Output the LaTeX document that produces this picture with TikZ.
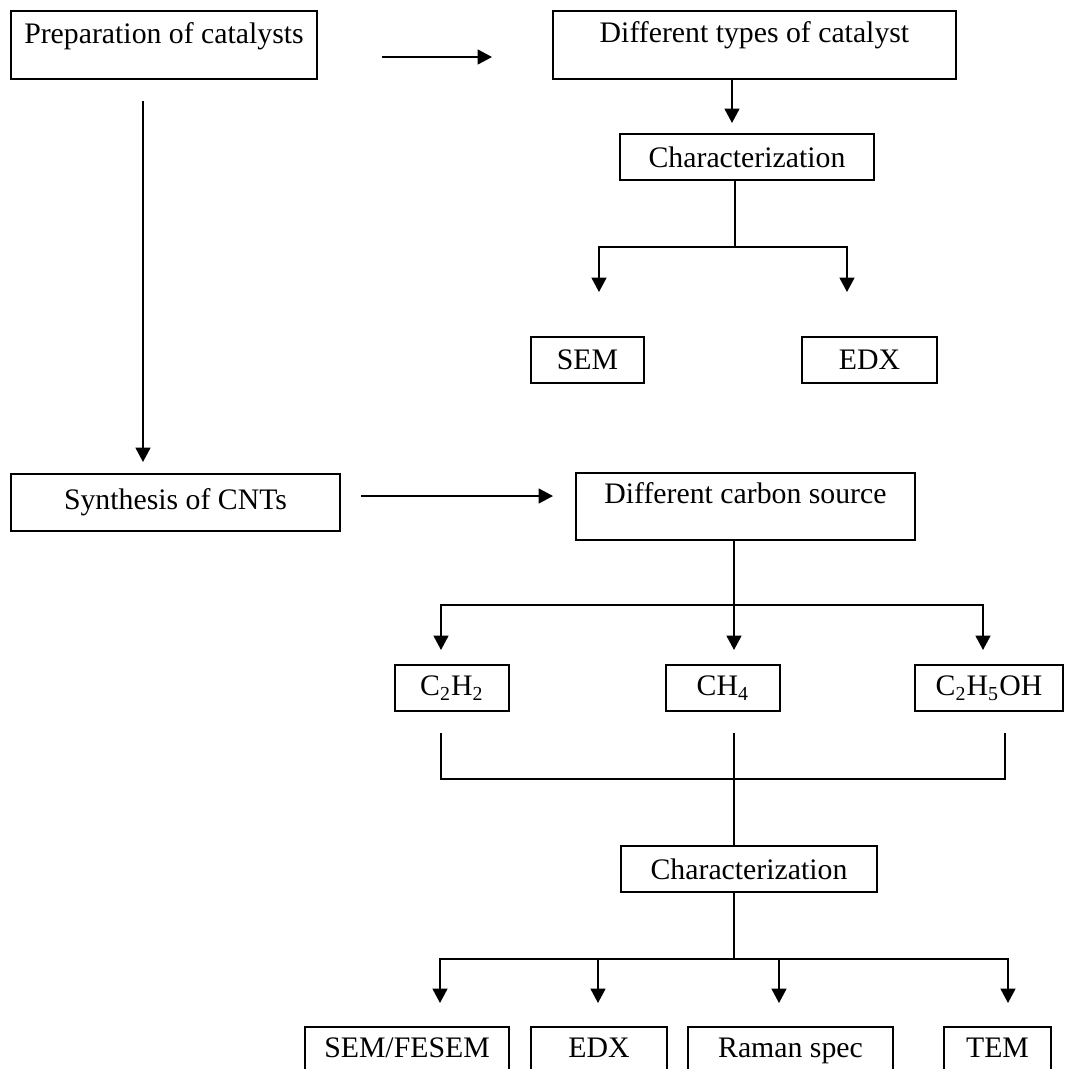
\documentclass[tikz,border=0pt]{standalone}
\usepackage{fontspec}
\setmainfont{Liberation Serif}
\usetikzlibrary{arrows.meta}
\newcommand{\px}{0.403pt}

\begin{document}
\begin{tikzpicture}[
    x=0.403pt, y=-0.403pt,
    box/.style={rectangle, draw, line width=0.75pt, inner sep=0pt, outer sep=0pt, font=\fontsize{12}{14}\selectfont},
    smallbox/.style={box, minimum height=46*\px},
    tallbox/.style={box, anchor=base},
    arrow/.style={-{Triangle[width=6pt, length=5.8pt]}, line width=0.75pt},
    conn/.style={line width=0.75pt}
]
\useasboundingbox (0,0) rectangle (1068,1069);
\clip (0,0) rectangle (1068,1069);

% Catalyst branch
\node[tallbox, minimum width=306*\px, text height=32*\px, text depth=36*\px] (prep) at (164,43) {Preparation of catalysts};
\node[tallbox, minimum width=403*\px, text height=31*\px, text depth=37*\px] (types) at (754.5,42) {Different types of catalyst};
\node[smallbox, minimum width=254*\px] (char1) at (747,157) {Characterization};
\node[smallbox, minimum width=113*\px] (sem1) at (587.5,360) {SEM};
\node[smallbox, minimum width=135*\px] (edx1) at (869.5,360) {EDX};

% CNT branch
\node[smallbox, minimum width=329*\px, minimum height=57*\px] (synth) at (175.5,502.5) {Synthesis of CNTs};
\node[tallbox, minimum width=339*\px, text height=30*\px, text depth=37*\px] (carbon) at (745.5,503) {Different carbon source};
\node[smallbox, minimum width=114*\px] (c2h2) at (452,688) {C\textsubscript{2}H\textsubscript{2}};
\node[smallbox, minimum width=114*\px] (ch4) at (723,688) {CH\textsubscript{4}};
\node[smallbox, minimum width=148*\px] (c2h5oh) at (989,688) {C\textsubscript{2}H\textsubscript{5}OH};
\node[smallbox, minimum width=256*\px] (char2) at (749,869) {Characterization};

% Techniques (cut by the lower edge)
\node[tallbox, minimum width=204*\px, text height=30*\px, text depth=40*\px] (fesem) at (407,1057) {SEM/FESEM};
\node[tallbox, minimum width=136*\px, text height=30*\px, text depth=40*\px] (edx2) at (599,1057) {EDX};
\node[tallbox, minimum width=205*\px, text height=30*\px, text depth=40*\px] (raman) at (790.5,1057) {Raman spec};
\node[tallbox, minimum width=107*\px, text height=30*\px, text depth=40*\px] (tem) at (997.5,1057) {TEM};

% Branch points
\coordinate (fork1) at (735,247);
\coordinate (fork2) at (734,605);
\coordinate (join2) at (734,779);
\coordinate (fork3) at (734,959);

% Main flow
\draw[arrow, shorten <=65*\px, shorten >=61*\px] ([yshift=-12*\px]prep.east) -- ([yshift=-12*\px]prep.east -| types.west);
\draw[arrow, shorten <=22*\px, shorten >=12*\px] ([xshift=-21*\px]prep.south) -- ([xshift=-21*\px]prep.south |- synth.north);
\draw[arrow, shorten <=21*\px, shorten >=23*\px] ([yshift=6.5*\px]synth.east) -- ([yshift=6.5*\px]synth.east -| carbon.west);

% Catalyst characterization
\draw[arrow, shorten >=11*\px] ([xshift=-22.5*\px]types.south) -- ([xshift=-22.5*\px]types.south |- char1.north);
\draw[arrow, shorten >=45*\px] (char1.south -| fork1) -- (fork1) -| ([xshift=11.5*\px]sem1.north);
\draw[arrow, shorten >=45*\px] (fork1) -| ([xshift=-22.5*\px]edx1.north);

% Carbon sources
\draw[arrow, shorten >=15*\px] (carbon.south -| fork2) -- (fork2) -| ([xshift=-11*\px]c2h2.north);
\draw[arrow, shorten >=15*\px] (fork2) -- ([xshift=11*\px]ch4.north);
\draw[arrow, shorten >=15*\px] (fork2) -| ([xshift=-6*\px]c2h5oh.north);

\draw[conn] ([xshift=-11*\px, yshift=-22*\px]c2h2.south) |- (join2) -| ([xshift=16*\px, yshift=-22*\px]c2h5oh.south);
\draw[conn] ([xshift=11*\px, yshift=-22*\px]ch4.south) -- (char2.north -| join2);

% CNT characterization
\draw[arrow, shorten >=24*\px] (char2.south -| fork3) -- (fork3) -| ([xshift=33*\px]fesem.north);
\draw[arrow, shorten >=24*\px] (fork3) -| ([xshift=-1*\px]edx2.north);
\draw[arrow, shorten >=24*\px] (fork3) -| ([xshift=-11.5*\px]raman.north);
\draw[arrow, shorten >=24*\px] (fork3) -| ([xshift=10.5*\px]tem.north);

\end{tikzpicture}
\end{document}
